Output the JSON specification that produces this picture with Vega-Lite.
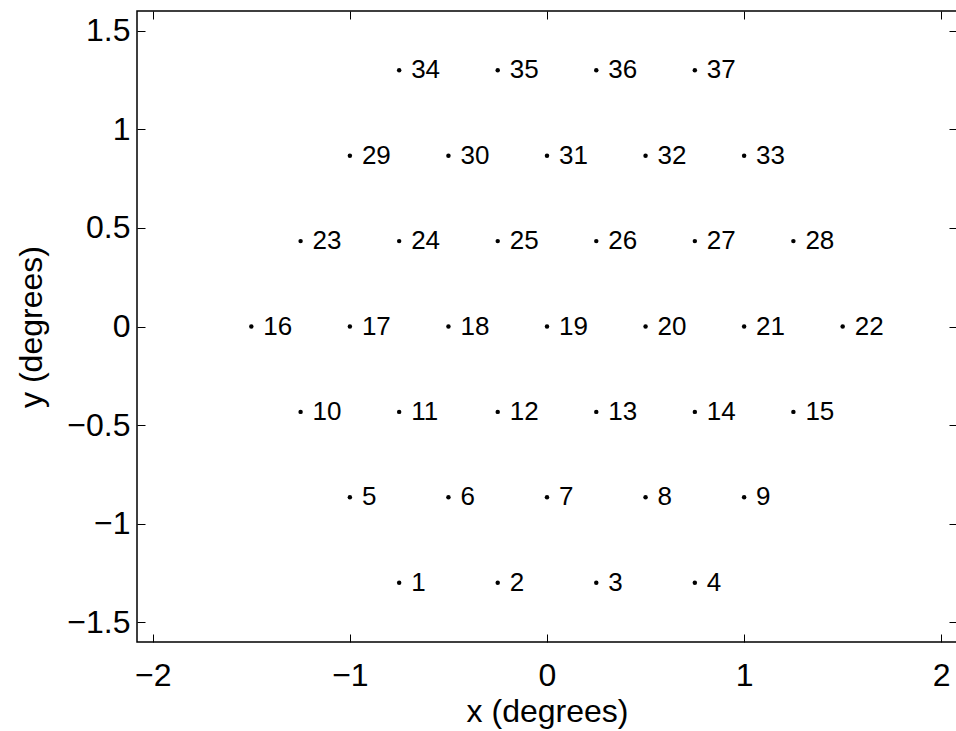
{
  "$schema": "https://vega.github.io/schema/vega-lite/v6.json",
  "autosize": "none",
  "padding": {"left": 137, "top": 11, "right": 0, "bottom": 89},
  "width": 820,
  "height": 631,
  "background": "white",
  "config": {
    "view": {"stroke": "black", "strokeWidth": 1.5},
    "font": "Liberation Sans",
    "axis": {
      "domain": false,
      "grid": false,
      "tickColor": "black",
      "tickWidth": 1,
      "tickSize": -8,
      "labelColor": "black",
      "titleColor": "black",
      "labelFont": "Liberation Sans",
      "titleFont": "Liberation Sans",
      "labelFontSize": 32,
      "titleFontSize": 32,
      "titleFontWeight": "normal"
    }
  },
  "data": {
    "values": [
      {"id": "1", "x": -0.75, "y": -1.299}, {"id": "2", "x": -0.25, "y": -1.299}, {"id": "3", "x": 0.25, "y": -1.299}, {"id": "4", "x": 0.75, "y": -1.299},
      {"id": "5", "x": -1.0, "y": -0.866}, {"id": "6", "x": -0.5, "y": -0.866}, {"id": "7", "x": 0.0, "y": -0.866}, {"id": "8", "x": 0.5, "y": -0.866}, {"id": "9", "x": 1.0, "y": -0.866},
      {"id": "10", "x": -1.25, "y": -0.433}, {"id": "11", "x": -0.75, "y": -0.433}, {"id": "12", "x": -0.25, "y": -0.433}, {"id": "13", "x": 0.25, "y": -0.433}, {"id": "14", "x": 0.75, "y": -0.433}, {"id": "15", "x": 1.25, "y": -0.433},
      {"id": "16", "x": -1.5, "y": 0}, {"id": "17", "x": -1.0, "y": 0}, {"id": "18", "x": -0.5, "y": 0}, {"id": "19", "x": 0.0, "y": 0}, {"id": "20", "x": 0.5, "y": 0}, {"id": "21", "x": 1.0, "y": 0}, {"id": "22", "x": 1.5, "y": 0},
      {"id": "23", "x": -1.25, "y": 0.433}, {"id": "24", "x": -0.75, "y": 0.433}, {"id": "25", "x": -0.25, "y": 0.433}, {"id": "26", "x": 0.25, "y": 0.433}, {"id": "27", "x": 0.75, "y": 0.433}, {"id": "28", "x": 1.25, "y": 0.433},
      {"id": "29", "x": -1.0, "y": 0.866}, {"id": "30", "x": -0.5, "y": 0.866}, {"id": "31", "x": 0.0, "y": 0.866}, {"id": "32", "x": 0.5, "y": 0.866}, {"id": "33", "x": 1.0, "y": 0.866},
      {"id": "34", "x": -0.75, "y": 1.299}, {"id": "35", "x": -0.25, "y": 1.299}, {"id": "36", "x": 0.25, "y": 1.299}, {"id": "37", "x": 0.75, "y": 1.299}
    ]
  },
  "resolve": {"axis": {"x": "independent", "y": "independent"}},
  "layer": [
    {
      "mark": {"type": "circle", "color": "black", "opacity": 1, "size": 20},
      "encoding": {
        "x": {"field": "x", "type": "quantitative", "scale": {"domain": [-2.08, 2.08], "nice": false, "zero": false},
              "axis": {"orient": "bottom", "values": [-2, -1, 0, 1, 2], "format": "~g", "labelPadding": 26, "title": "x (degrees)", "titlePadding": 5}},
        "y": {"field": "y", "type": "quantitative", "scale": {"domain": [-1.6, 1.6], "nice": false, "zero": false},
              "axis": {"orient": "left", "values": [-1.5, -1, -0.5, 0, 0.5, 1, 1.5], "format": "~g", "labelPadding": 15, "title": "y (degrees)", "titlePadding": 18}}
      }
    },
    {
      "mark": {"type": "text", "align": "left", "baseline": "middle", "dx": 12, "fontSize": 26, "color": "black", "font": "Liberation Sans"},
      "encoding": {
        "text": {"field": "id"},
        "x": {"field": "x", "type": "quantitative", "axis": {"orient": "top", "values": [-2, -1, 0, 1, 2], "labels": false, "title": null}},
        "y": {"field": "y", "type": "quantitative", "axis": {"orient": "right", "values": [-1.5, -1, -0.5, 0, 0.5, 1, 1.5], "labels": false, "title": null}}
      }
    }
  ]
}
